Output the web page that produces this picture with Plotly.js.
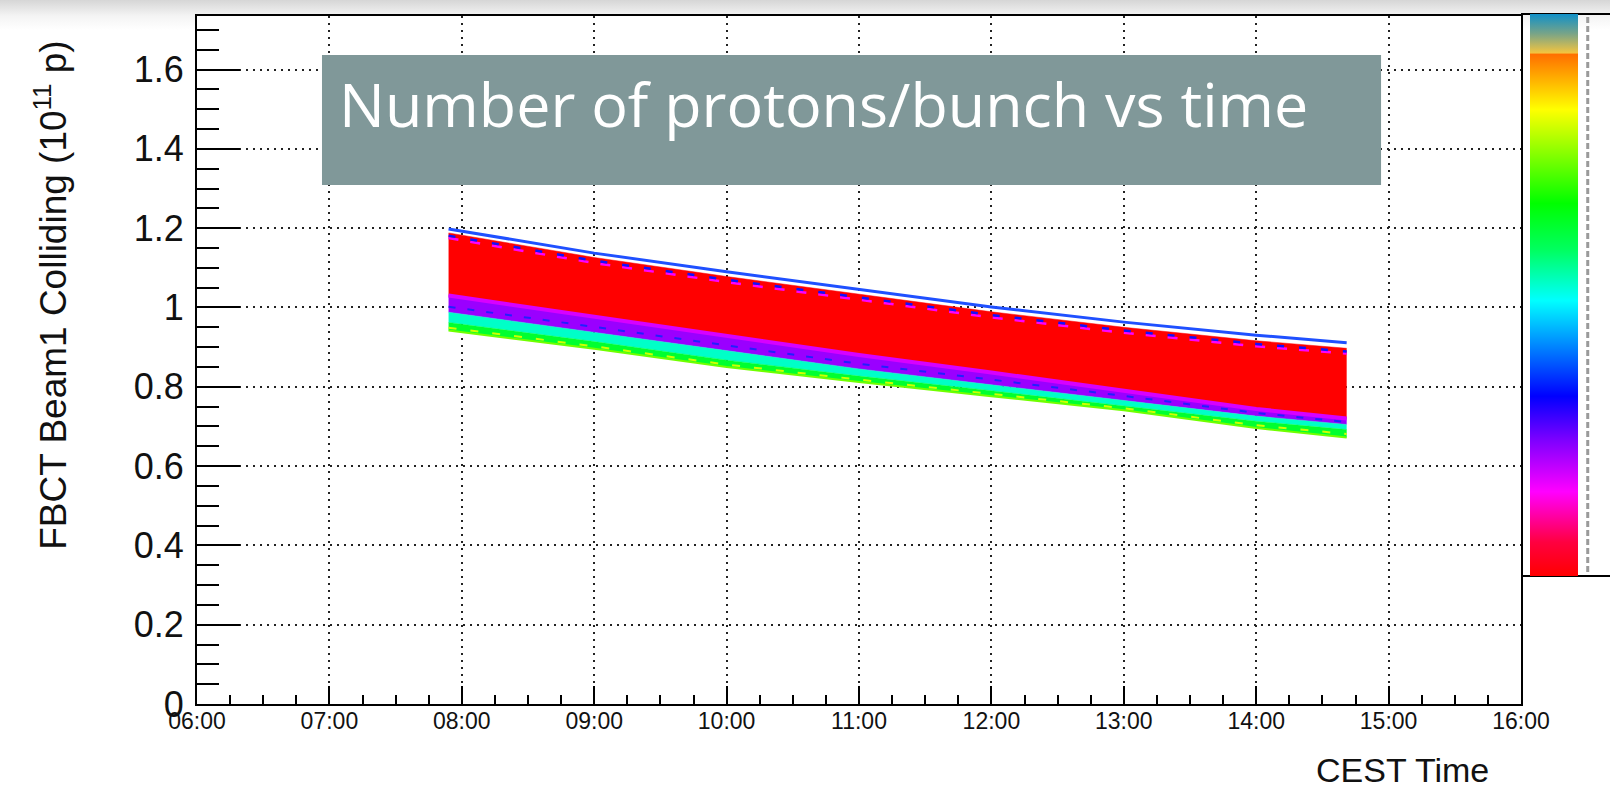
<!DOCTYPE html>
<html>
<head>
<meta charset="utf-8">
<script src="https://cdn.plot.ly/plotly-3.0.1.min.js"></script>
<style>
  html, body { margin: 0; padding: 0; }
  body { width: 1610px; height: 793px; background: linear-gradient(#d6d6d6 0px, #f4f4f4 16px, #ffffff 30px); overflow: hidden; }
  #chart { width: 1610px; height: 793px; }
</style>
</head>
<body>
<div id="chart"></div>
<script>
// ---- data ----
const day = "2012-05-13 ";
const times = ["07:54", "09:00", "10:00", "11:00", "12:00", "13:00", "14:00", "14:41"];
const topBlue      = [1.198, 1.137, 1.090, 1.045, 1.001, 0.963, 0.930, 0.911];
const redTop       = [1.188, 1.126, 1.078, 1.033, 0.989, 0.950, 0.916, 0.897];
const innerBlue    = [1.181, 1.118, 1.070, 1.025, 0.981, 0.942, 0.908, 0.889];
const innerMagenta = [1.175, 1.112, 1.064, 1.019, 0.975, 0.936, 0.902, 0.884];
const redBottom    = [1.030, 0.976, 0.928, 0.880, 0.836, 0.790, 0.744, 0.720];
const purpleBlue   = [1.002, 0.951, 0.904, 0.858, 0.818, 0.777, 0.734, 0.711];
const purpleBottom = [0.988, 0.937, 0.890, 0.845, 0.805, 0.765, 0.726, 0.705];
const cyanBottom   = [0.962, 0.914, 0.867, 0.827, 0.790, 0.752, 0.713, 0.692];
const yellowDash   = [0.949, 0.902, 0.856, 0.818, 0.782, 0.746, 0.703, 0.681];
const greenBottom  = [0.942, 0.896, 0.850, 0.812, 0.776, 0.741, 0.696, 0.672];

const xRange = ["06:00", "16:00"];
const yRange = [0, 1.735];
const paletteVals = [0, 1];
const titleText = "Number of protons/bunch vs time";
const yTitle = "FBCT Beam1 Colliding (10<sup>11</sup> p)";
const xTitle = "CEST Time";

const X = times.map(t => day + t);

function line(y, color, width, extra) {
  return Object.assign({
    type: "scatter", mode: "lines", x: X, y: y,
    line: { color: color, width: width },
    hoverinfo: "skip", showlegend: false
  }, extra || {});
}

const traces = [
  line(greenBottom, "#70ff00", 2),
  line(cyanBottom, "#00ff30", 0.5, { fill: "tonexty", fillcolor: "#00ff30" }),
  line(purpleBottom, "#00ffc8", 0.5, { fill: "tonexty", fillcolor: "#00ffc8" }),
  line(redBottom, "#9a00ff", 0.5, { fill: "tonexty", fillcolor: "#9a00ff" }),
  line(redTop, "#ff0000", 0.5, { fill: "tonexty", fillcolor: "#ff0000" }),
  line(redBottom, "#d800ff", 4),
  line(purpleBlue, "#2020ff", 2, { line: { color: "#2020ff", width: 2, dash: "7px,12px" } }),
  line(yellowDash, "#d0ff00", 2, { line: { color: "#d0ff00", width: 2, dash: "8px,14px" } }),
  line(innerMagenta, "#ff00ff", 2, { line: { color: "#ff00ff", width: 2.5, dash: "10px,12px" } }),
  line(innerBlue, "#1010ff", 2, { line: { color: "#1010ff", width: 2.5, dash: "7px,15px" } }),
  line(topBlue, "#1f50ff", 3),
  {
    type: "scatter", mode: "markers", x: [day + "05:00", day + "05:00"], y: [0.5, 0.5],
    hoverinfo: "skip", showlegend: false,
    marker: {
      color: paletteVals, cmin: paletteVals[0], cmax: paletteVals[1], opacity: 0, showscale: true,
      colorscale: [
        [0.00, "#ff0000"],
        [0.06, "#ff0040"],
        [0.15, "#ff00ff"],
        [0.24, "#8000ff"],
        [0.32, "#0000ff"],
        [0.49, "#00ffff"],
        [0.58, "#00ff60"],
        [0.663, "#00ff00"],
        [0.83, "#ffff00"],
        [0.928, "#ff7000"],
        [0.931, "#f2c440"],
        [0.965, "#78a488"],
        [1.00, "#1090c8"]
      ],
      colorbar: {
        thickness: 48, thicknessmode: "pixels",
        len: 562, lenmode: "pixels",
        x: 1.0068, xanchor: "left", xpad: 0,
        y: 1.0029, yanchor: "top", ypad: 0,
        outlinewidth: 0, showticklabels: false, ticks: ""
      }
    }
  }
];

const layout = {
  width: 1610, height: 793,
  margin: { l: 197, r: 89, t: 16, b: 89 },
  paper_bgcolor: "rgba(0,0,0,0)",
  plot_bgcolor: "#ffffff",
  showlegend: false,
  font: { family: "Liberation Sans, Arial, sans-serif", color: "#000" },
  xaxis: {
    type: "date",
    range: xRange.map(t => day + t),
    dtick: 3600000, tick0: day + "06:00",
    tickformat: "%H:%M",
    ticks: "inside", ticklen: 18, tickwidth: 2, tickcolor: "#000",
    minor: { dtick: 900000, ticks: "inside", ticklen: 9, tickwidth: 2, tickcolor: "#000", showgrid: false },
    showline: true, linecolor: "#000", linewidth: 2, mirror: true,
    showgrid: true, gridcolor: "#222", gridwidth: 2, griddash: "2px,5px",
    zeroline: false,
    tickfont: { size: 23, family: "Liberation Sans, Arial, sans-serif", color: "#111" },
    ticklabelstandoff: -5
  },
  yaxis: {
    range: yRange,
    dtick: 0.2, tick0: 0,
    ticks: "inside", ticklen: 43, tickwidth: 2, tickcolor: "#000",
    minor: { dtick: 0.05, ticks: "inside", ticklen: 22, tickwidth: 2, tickcolor: "#000", showgrid: false },
    showline: true, linecolor: "#000", linewidth: 2, mirror: true,
    showgrid: true, gridcolor: "#222", gridwidth: 2, griddash: "2px,5px",
    zeroline: false,
    tickfont: { size: 36, family: "Liberation Sans, Arial, sans-serif", color: "#111" },
    ticklabelstandoff: 4
  },
  shapes: [
    { type: "rect", xref: "paper", yref: "paper", x0: 0.0944, x1: 0.8943, y0: 0.7544, y1: 0.9433,
      fillcolor: "#809899", line: { width: 0 }, layer: "above" },
    { type: "line", xref: "paper", yref: "paper", x0: 1.0, x1: 1.07, y0: 1.0029, y1: 1.0029,
      line: { color: "#000", width: 2 } },
    { type: "line", xref: "paper", yref: "paper", x0: 1.0, x1: 1.07, y0: 0.186, y1: 0.186,
      line: { color: "#000", width: 2 } },
    { type: "line", xref: "paper", yref: "paper", x0: 1.0504, x1: 1.0504, y0: 0.192, y1: 1.0,
      line: { color: "#9a9a9a", width: 3, dash: "6px,3px" } }
  ],
  annotations: [
    { xref: "paper", yref: "paper", x: 0.1055, y: 0.8725, xanchor: "left", yanchor: "middle",
      text: titleText, showarrow: false,
      font: { family: "Open Sans, Noto Sans, sans-serif", size: 61, color: "#ffffff" } },
    { xref: "paper", yref: "paper", x: -0.1100, y: 0.5938, xanchor: "center", yanchor: "middle",
      textangle: -90, text: yTitle, showarrow: false,
      font: { family: "Liberation Sans, Arial, sans-serif", size: 37, color: "#111" } },
    { xref: "paper", yref: "paper", x: 0.9770, y: -0.0959, xanchor: "right", yanchor: "middle",
      text: xTitle, showarrow: false,
      font: { family: "Liberation Sans, Arial, sans-serif", size: 34, color: "#111" } }
  ]
};

Plotly.newPlot("chart", traces, layout, { staticPlot: true, displayModeBar: false });
</script>
</body>
</html>
